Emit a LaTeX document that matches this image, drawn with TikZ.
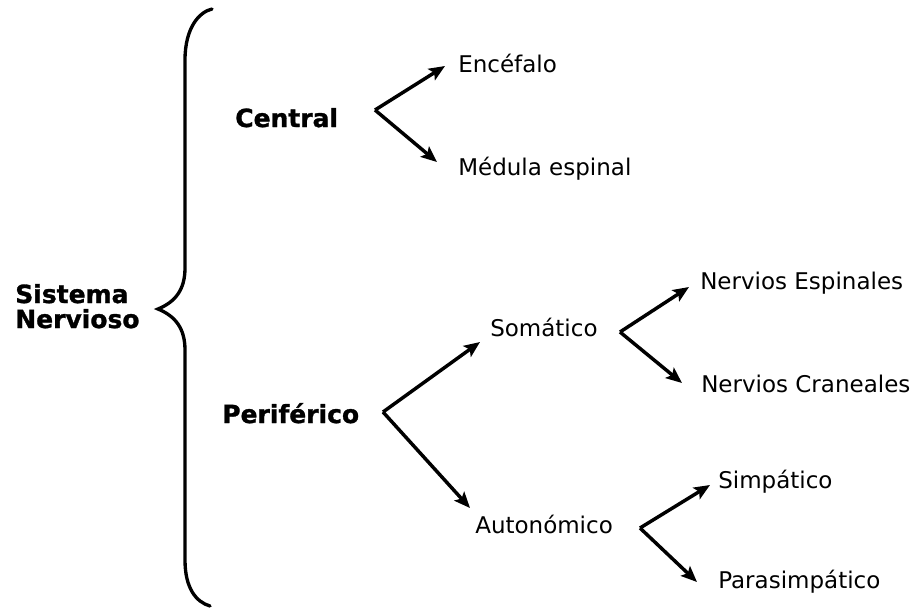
\documentclass[tikz,border=0pt]{standalone}
\usepackage{fontspec}
\setmainfont{DejaVu Sans}[BoldFeatures={FakeBold=1.2}]
\usetikzlibrary{arrows.meta}

\tikzset{
  heading/.style={anchor=base west, inner sep=0pt, font=\fontsize{18.75pt}{20pt}\selectfont\bfseries},
  leaf/.style={anchor=base west, inner sep=0pt, font=\fontsize{17.25pt}{20pt}\selectfont},
  branch/.style={line width=2.6pt, line join=miter, -{Stealth[length=12pt,width=10pt,inset=2.5pt]}},
  bracket/.style={line width=2.5pt, line cap=round},
}

\begin{document}
\begin{tikzpicture}[x=0.75pt, y=-0.75pt]
  \useasboundingbox (0,0) rectangle (919,608);

  % title of the classification
  \node[heading] (sis) at (15,303) {Sistema};
  \node[heading] (ner) at (15,328) {Nervioso};

  % large curly brace
  \draw[bracket] (212,9) .. controls (199,12) and (185,28) .. (185,60)
    -- (185,268) .. controls (185,290) and (175,302) .. (158,309)
    .. controls (175,316) and (185,328) .. (185,350)
    -- (185,560) .. controls (185,588) and (196,602) .. (210,606);

  % first level
  \node[heading] (cen) at (235,127) {Central};
  \node[heading] (per) at (222,423) {Periférico};

  % second level
  \node[leaf] (enc) at (458,72) {Encéfalo};
  \node[leaf] (med) at (458,175) {Médula espinal};
  \node[leaf] (som) at (490,336) {Somático};
  \node[leaf] (aut) at (475,533) {Autonómico};

  % third level
  \node[leaf] (nes) at (700,289) {Nervios Espinales};
  \node[leaf] (ncr) at (701,392) {Nervios Craneales};
  \node[leaf] (sim) at (718,488) {Simpático};
  \node[leaf] (par) at (718,588) {Parasimpático};

  % branching points and arrow ends
  \coordinate (v1) at (375,110);
  \coordinate (t1a) at (445,66);
  \coordinate (t1b) at (437,162);
  \coordinate (v2) at (383,412);
  \coordinate (t2a) at (480,342);
  \coordinate (t2b) at (470,508);
  \coordinate (v3) at (620,332);
  \coordinate (t3a) at (689,287);
  \coordinate (t3b) at (682,383);
  \coordinate (v4) at (640,528);
  \coordinate (t4a) at (710,485);
  \coordinate (t4b) at (697,582);

  \draw[branch] (v1) -- (t1a);
  \draw[branch] (v1) -- (t1b);
  \draw[branch] (v2) -- (t2a);
  \draw[branch] (v2) -- (t2b);
  \draw[branch] (v3) -- (t3a);
  \draw[branch] (v3) -- (t3b);
  \draw[branch] (v4) -- (t4a);
  \draw[branch] (v4) -- (t4b);
\end{tikzpicture}
\end{document}
